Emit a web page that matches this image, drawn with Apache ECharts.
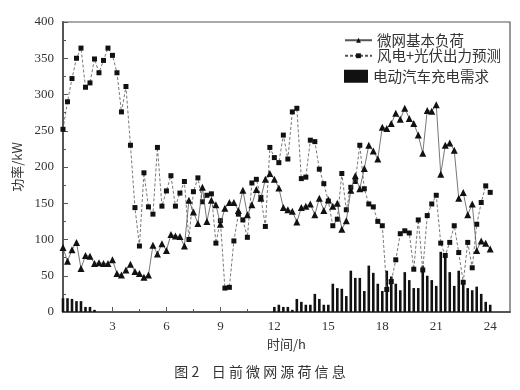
<!DOCTYPE html>
<html>
<head>
<meta charset="utf-8">
<script src="https://cdn.jsdelivr.net/npm/echarts@6/dist/echarts.min.js"></script>
<style>
  body { margin: 0; background: #fff; }
  #chart { width: 520px; height: 390px; }
</style>
</head>
<body>
<div id="chart"></div>
<script>
// 15 min 一个点, 0.25h ~ 24h
var baseLoad = [
  89, 70, 86, 96, 60, 78, 77, 67, 68, 67, 67, 72,
  53, 51, 58, 66, 56, 53, 48, 51, 92, 80, 94, 85,
  107, 105, 104, 91, 154, 138, 122, 172, 125, 154, 148, 121,
  143, 151, 151, 140, 168, 134, 148, 169, 157, 183, 191, 183,
  171, 144, 141, 139, 124, 144, 146, 149, 134, 157, 140, 155,
  146, 150, 114, 126, 168, 188, 170, 198, 230, 222, 211, 255,
  253, 260, 274, 266, 281, 267, 260, 244, 219, 278, 277, 286,
  190, 230, 233, 223, 157, 165, 134, 149, 85, 98, 95, 87
];
var renewable = [
  252, 290, 322, 350, 364, 310, 316, 349, 330, 347, 364, 354,
  330, 276, 311, 230, 144, 91, 192, 145, 135, 227, 146, 167,
  188, 146, 164, 180, 100, 166, 185, 152, 161, 163, 95, 126,
  33, 34, 98, 135, 127, 103, 178, 183, 158, 118, 227, 213,
  206, 244, 211, 276, 281, 184, 186, 237, 235, 197, 177, 153,
  119, 128, 191, 141, 172, 180, 230, 170, 149, 145, 125, 119,
  31, 42, 72, 108, 112, 109, 59, 127, 58, 133, 149, 161,
  95, 78, 96, 119, 82, 41, 96, 61, 121, 151, 174, 165
];
var evDemand = [
  19, 19, 18, 15, 15, 7, 7, 3, 0, 0, 0, 0,
  0, 0, 0, 0, 0, 0, 0, 0, 0, 0, 0, 0,
  0, 0, 0, 0, 0, 0, 0, 0, 0, 0, 0, 0,
  0, 0, 0, 0, 0, 0, 0, 0, 0, 0, 0, 7,
  10, 7, 7, 3, 18, 14, 10, 10, 25, 18, 10, 10,
  39, 33, 32, 22, 57, 47, 47, 29, 64, 54, 39, 29,
  57, 49, 39, 30, 55, 44, 33, 33, 64, 50, 44, 36,
  83, 81, 55, 36, 57, 42, 33, 30, 35, 25, 14, 10
];
var xTicks = [3, 6, 9, 12, 15, 18, 21, 24];
var xMinorTicks = [1.5, 4.5, 7.5, 10.5, 13.5, 16.5, 19.5, 22.5];

function pairs(arr) {
  return arr.map(function (v, i) { return [(i + 1) * 0.25, v]; });
}

var serif = "'Liberation Serif', 'DejaVu Serif', serif";
var cjk = "'Noto Sans CJK SC', sans-serif";
var axisColor = '#555';

var myChart = echarts.init(document.getElementById('chart'));
var option = {
  animation: false,
  grid: {
    left: 63, top: 22, width: 447, height: 290,
    show: true, borderColor: axisColor, borderWidth: 1.2
  },
  legend: [
    {
      data: ['微网基本负荷', '风电+光伏出力预测'],
      left: 339, top: 28,
      orient: 'vertical',
      itemWidth: 27, itemHeight: 6, itemGap: 1,
      textStyle: { fontFamily: cjk, fontSize: 14.5, color: '#333' }
    },
    {
      data: ['电动汽车充电需求'],
      left: 339, top: 64,
      icon: 'rect',
      itemWidth: 24, itemHeight: 13,
      textStyle: { fontFamily: cjk, fontSize: 14.5, color: '#333' }
    }
  ],
  xAxis: [
    {
      type: 'value', min: 0.25, max: 25.1,
      name: '时间/h', nameLocation: 'middle', nameGap: 19,
      nameTextStyle: { fontFamily: cjk, fontSize: 13, color: '#333' },
      axisLine: { lineStyle: { color: axisColor, width: 2 } },
      axisTick: { inside: true, length: 5, customValues: xTicks, lineStyle: { color: axisColor } },
      axisLabel: { customValues: xTicks, fontFamily: serif, fontSize: 13, color: '#333', margin: 8 },
      splitLine: { show: false }
    },
    {
      type: 'value', min: 0.25, max: 25.1, position: 'bottom',
      axisLine: { show: false },
      axisTick: { inside: true, length: 3, customValues: xMinorTicks, lineStyle: { color: axisColor } },
      axisLabel: { show: false },
      splitLine: { show: false }
    }
  ],
  yAxis: {
    type: 'value', min: 0, max: 400, interval: 50,
    name: '功率/kW', nameLocation: 'middle', nameGap: 36,
    nameTextStyle: { fontFamily: cjk, fontSize: 13, color: '#333' },
    axisLine: { show: true, lineStyle: { color: axisColor, width: 2 } },
    axisTick: { inside: true, length: 5, lineStyle: { color: axisColor } },
    minorTick: { show: true, splitNumber: 2, length: 3, lineStyle: { color: axisColor } },
    axisLabel: { fontFamily: serif, fontSize: 13, color: '#333', margin: 9 },
    splitLine: { show: false }
  },
  series: [
    {
      name: '微网基本负荷',
      type: 'line',
      data: pairs(baseLoad),
      symbol: 'triangle', symbolSize: 7,
      itemStyle: { color: '#111' },
      lineStyle: { color: '#555', width: 0.8 },
      z: 4
    },
    {
      name: '风电+光伏出力预测',
      type: 'line',
      data: pairs(renewable),
      symbol: 'rect', symbolSize: 5,
      itemStyle: { color: '#111' },
      lineStyle: { color: '#555', width: 0.8, type: [3, 2] },
      z: 3
    },
    {
      name: '电动汽车充电需求',
      type: 'bar',
      data: pairs(evDemand),
      barWidth: 2.6,
      itemStyle: { color: '#111' },
      z: 2
    }
  ],
  graphic: [
    {
      type: 'text', left: 'center', top: 365,
      style: {
        text: '图 2    日 前 微 网 源 荷 信 息',
        font: '14px ' + cjk,
        fill: '#333'
      }
    }
  ]
};
myChart.setOption(option);
</script>
</body>
</html>
